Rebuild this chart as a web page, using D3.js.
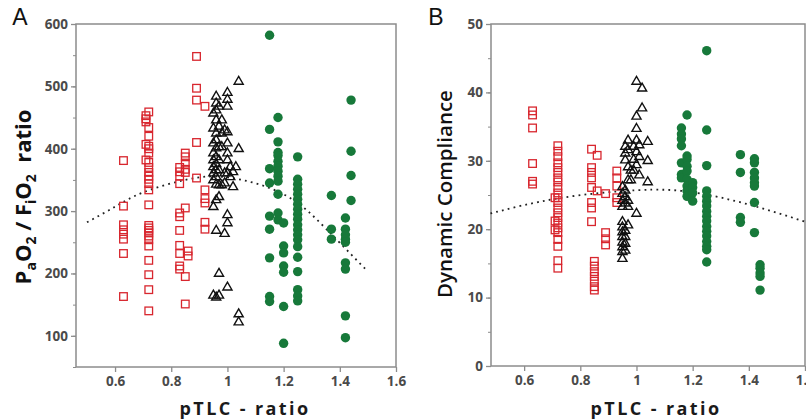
<!DOCTYPE html>
<html>
<head>
<meta charset="utf-8">
<script src="https://cdn.jsdelivr.net/npm/d3@7"></script>
<style>
  body { margin: 0; background: #fff; }
  svg { font-family: "Open Sans", "DejaVu Sans", sans-serif; }
</style>
</head>
<body>
<svg id="chart" width="806" height="419"></svg>
<script>
// Panel A: PaO2/FiO2 ratio vs pTLC ratio, [x, y]
var aSquares = [
  [0.63,381],[0.63,308],[0.63,278],[0.63,270],[0.63,263],[0.63,255],[0.63,232],[0.63,163],
  [0.72,459],[0.71,453],[0.71,448],[0.71,443],[0.72,434],[0.72,420],[0.71,407],[0.72,404],
  [0.72,400],[0.72,393],[0.71,382],[0.72,378],[0.72,370],[0.72,362],[0.72,356],[0.72,351],
  [0.72,344],[0.72,334],[0.72,310],[0.72,277],[0.72,273],[0.72,269],[0.72,265],[0.72,260],
  [0.72,254],[0.72,244],[0.72,221],[0.72,198],[0.72,174],[0.72,140],
  [0.83,370],[0.83,363],[0.83,356],[0.83,344],[0.83,297],[0.83,291],[0.83,269],[0.83,245],
  [0.83,232],[0.83,212],[0.83,207],
  [0.85,393],[0.85,387],[0.85,377],[0.85,367],[0.85,362],[0.85,305],[0.85,195],[0.85,151],
  [0.86,236],[0.86,228],
  [0.89,548],[0.89,497],[0.89,478],[0.89,410],[0.89,353],
  [0.92,468],[0.92,334],[0.92,320],[0.92,313],[0.92,282],[0.92,271]
];
var aTriangles = [
  [0.95,458],[0.95,434],[0.95,410],[0.95,394],[0.95,383],[0.95,372],[0.95,362],[0.95,351],
  [0.95,308],[0.95,166],
  [0.96,485],[0.96,474],[0.96,463],[0.96,447],[0.96,426],[0.96,415],[0.96,402],[0.96,388],
  [0.96,377],[0.96,367],[0.96,356],[0.96,344],[0.96,319],[0.96,270],[0.96,163],
  [0.97,469],[0.97,437],[0.97,404],[0.97,383],[0.97,367],[0.97,343],[0.97,324],[0.97,201],
  [0.97,166],
  [0.98,447],[0.98,426],[0.98,404],[0.98,343],
  [0.99,431],[0.99,362],[0.99,346],[0.99,265],
  [1.00,491],[1.00,480],[1.00,469],[1.00,428],[1.00,410],[1.00,394],[1.00,383],[1.00,362],
  [1.00,295],[1.00,282],[1.00,179],
  [1.01,372],[1.01,356],[1.02,364],[1.02,340],[1.03,372],
  [1.04,509],[1.04,401],[1.04,136],[1.04,123]
];
var aCircles = [
  [1.15,582],[1.15,431],[1.15,368],[1.15,345],[1.15,292],[1.15,271],[1.15,225],[1.15,163],[1.15,155],
  [1.18,450],[1.18,411],[1.18,394],[1.18,389],[1.18,380],[1.18,372],[1.18,364],[1.18,356],
  [1.18,348],[1.18,327],[1.18,297],[1.18,286],
  [1.20,281],[1.20,244],[1.20,233],[1.20,212],[1.20,202],[1.20,147],[1.20,88],
  [1.25,387],[1.25,351],[1.25,343],[1.25,335],[1.25,327],[1.25,319],[1.25,311],[1.25,303],
  [1.25,295],[1.25,287],[1.25,278],[1.25,270],[1.25,262],[1.25,254],[1.25,243],[1.25,226],
  [1.25,203],[1.25,174],[1.25,164],[1.25,156],
  [1.37,325],[1.37,271],[1.37,255],
  [1.42,289],[1.42,271],[1.42,262],[1.42,255],[1.42,250],[1.42,217],[1.42,207],[1.42,132],[1.42,97],
  [1.44,478],[1.44,396],[1.44,357],[1.44,317]
];
var aTrend = [[0.5,282],[0.6,307],[0.7,330],[0.85,350],[1.0,354],[1.2,327],[1.35,272],[1.5,203]];
var aYTicks = [100, 200, 300, 400, 500, 600];

// Panel B: dynamic compliance vs pTLC ratio, [x, y]
var bSquares = [
  [0.63,37.3],[0.63,36.7],[0.63,34.8],[0.63,29.6],[0.63,27.0],[0.63,26.6],
  [0.72,32.2],[0.72,31.4],[0.72,30.6],[0.72,29.7],[0.72,29.0],[0.72,28.3],[0.72,27.5],[0.72,26.9],
  [0.72,26.1],[0.72,25.3],[0.72,24.6],[0.72,23.9],[0.72,23.1],[0.72,22.4],[0.72,21.7],[0.72,20.9],
  [0.72,20.2],[0.72,19.5],[0.72,18.5],[0.72,17.5],[0.72,15.4],[0.72,14.3],
  [0.71,24.6],[0.71,21.2],[0.71,19.9],
  [0.84,31.7],[0.84,29.0],[0.84,28.3],[0.84,27.5],[0.84,26.1],[0.84,23.9],[0.84,23.1],[0.84,21.1],
  [0.85,15.3],[0.85,14.6],[0.85,13.8],[0.85,13.1],[0.85,12.4],[0.85,11.6],[0.85,11.1],
  [0.86,30.8],[0.86,25.6],
  [0.89,25.2],[0.89,19.5],[0.89,18.6],[0.89,17.7],
  [0.93,28.5],[0.93,27.5],[0.93,26.3],[0.93,24.6],[0.93,23.9]
];
var bTriangles = [
  [0.95,15.8],[0.95,16.8],[0.95,17.5],[0.95,18.2],[0.95,19.0],[0.95,19.7],[0.95,20.4],[0.95,21.2],
  [0.95,23.4],[0.95,24.3],[0.95,25.3],[0.95,26.3],
  [0.96,32.2],[0.96,31.2],[0.96,30.2],[0.96,25.8],[0.96,24.8],[0.96,23.9],[0.96,19.9],[0.96,19.0],
  [0.96,18.0],[0.96,17.0],
  [0.97,33.1],[0.97,31.7],[0.97,29.2],[0.97,27.3],[0.97,24.3],[0.97,23.4],[0.97,20.7],
  [0.98,28.7],[0.98,27.3],
  [0.99,30.3],[0.99,32.2],[0.99,28.7],
  [1.00,41.7],[1.00,36.6],[1.00,34.8],[1.00,33.1],[1.00,31.4],[1.00,29.5],[1.00,22.4],
  [1.01,28.0],[1.01,32.4],[1.01,30.7],
  [1.02,40.7],[1.02,37.8],
  [1.04,32.9],[1.04,30.1],[1.04,27.0]
];
var bCircles = [
  [1.16,34.8],[1.16,33.9],[1.16,33.2],[1.16,32.2],[1.16,29.7],[1.16,28.0],[1.16,27.5],
  [1.18,36.7],[1.18,30.7],[1.18,30.2],[1.18,29.2],[1.18,28.5],[1.18,27.3],[1.18,26.3],[1.18,25.6],[1.18,24.8],
  [1.20,26.8],[1.20,26.1],[1.20,25.3],[1.20,24.1],
  [1.25,46.1],[1.25,34.5],[1.25,29.3],[1.25,25.6],[1.25,24.8],[1.25,24.1],[1.25,23.4],[1.25,22.6],
  [1.25,21.9],[1.25,21.2],[1.25,20.4],[1.25,19.7],[1.25,19.0],[1.25,18.2],[1.25,17.5],[1.25,17.0],[1.25,15.2],
  [1.37,30.9],[1.37,28.3],[1.37,21.7],[1.37,21.0],
  [1.42,30.3],[1.42,29.7],[1.42,28.3],[1.42,27.5],[1.42,26.8],[1.42,26.3],[1.42,23.9],[1.42,19.5],
  [1.44,14.8],[1.44,14.3],[1.44,13.6],[1.44,13.1],[1.44,11.1]
];
var bTrend = [[0.48,22.3],[0.72,24.5],[1.0,25.7],[1.2,25.4],[1.4,23.6],[1.6,21.1]];
var bYTicks = [0, 10, 20, 30, 40, 50];

var xTicks = [0.6, 0.8, 1, 1.2, 1.4, 1.6];

var svg = d3.select('#chart');

drawPanel({
  letter: 'A', letterX: 20,
  left: 76, right: 396, top: 24, bottom: 367,
  xDomain: [0.461, 1.6], yDomain: [50, 600], yTicks: aYTicks, yMinor: d3.range(50, 601, 50),
  squares: aSquares, triangles: aTriangles, circles: aCircles, trend: aTrend,
  xTitleX: 245
});
drawPanel({
  letter: 'B', letterX: 436,
  left: 491, right: 805, top: 24, bottom: 366,
  xDomain: [0.482, 1.6], yDomain: [0, 50], yTicks: bYTicks, yMinor: d3.range(0, 51, 5),
  squares: bSquares, triangles: bTriangles, circles: bCircles, trend: bTrend,
  xTitleX: 656
});

function drawPanel(p) {
  var x = d3.scaleLinear().domain(p.xDomain).range([p.left, p.right]);
  var y = d3.scaleLinear().domain(p.yDomain).range([p.bottom, p.top]);
  var g = svg.append('g');

  // frame
  g.append('rect')
    .attr('x', p.left).attr('y', p.top)
    .attr('width', p.right - p.left).attr('height', p.bottom - p.top)
    .attr('fill', '#fff').attr('stroke', '#8c8c8c').attr('stroke-width', 1.5);

  // y axis with minor ticks
  var yMin = g.append('g')
    .attr('transform', 'translate(' + p.left + ',0)')
    .call(d3.axisLeft(y).tickValues(p.yMinor).tickSize(3).tickFormat(''));
  yMin.select('.domain').remove();
  yMin.selectAll('line').attr('stroke', '#8c8c8c');

  var yAx = g.append('g')
    .attr('transform', 'translate(' + p.left + ',0)')
    .call(d3.axisLeft(y).tickValues(p.yTicks).tickSize(5).tickPadding(3));
  yAx.select('.domain').remove();
  yAx.selectAll('line').attr('stroke', '#8c8c8c').attr('stroke-width', 1.3);
  yAx.selectAll('text')
    .attr('fill', '#4a4a4a').style('font-size', '13.5px').style('font-weight', 'bold')
    .style('font-family', '"Open Sans", sans-serif');

  var xAx = g.append('g')
    .attr('transform', 'translate(0,' + p.bottom + ')')
    .call(d3.axisBottom(x).tickValues(xTicks).tickSize(5).tickPadding(4).tickFormat(d3.format('')));
  xAx.select('.domain').remove();
  xAx.selectAll('line').attr('stroke', '#8c8c8c').attr('stroke-width', 1.3);
  xAx.selectAll('text')
    .attr('fill', '#4a4a4a').style('font-size', '13.5px').style('font-weight', 'bold')
    .style('font-family', '"Open Sans", sans-serif');

  // trend line (dotted)
  var line = d3.line().x(d => x(d[0])).y(d => y(d[1])).curve(d3.curveNatural);
  g.append('path')
    .datum(p.trend)
    .attr('fill', 'none')
    .attr('stroke', '#222')
    .attr('stroke-width', 1.8)
    .attr('stroke-dasharray', '1.8,4.2')
    .attr('d', line);

  // squares
  g.selectAll('.sq')
    .data(p.squares)
    .enter().append('rect')
    .attr('x', d => x(d[0]) - 3.8)
    .attr('y', d => y(d[1]) - 3.8)
    .attr('width', 7.6).attr('height', 7.6)
    .attr('fill', 'none')
    .attr('stroke', '#d8262e')
    .attr('stroke-width', 1.3);

  // triangles
  var tri = d3.symbol().type(d3.symbolTriangle).size(36);
  g.selectAll('.tri')
    .data(p.triangles)
    .enter().append('path')
    .attr('transform', d => 'translate(' + x(d[0]) + ',' + (y(d[1]) + 0.8) + ')')
    .attr('d', tri)
    .attr('fill', 'none')
    .attr('stroke', '#111')
    .attr('stroke-width', 1.4);

  // circles
  g.selectAll('.dot')
    .data(p.circles)
    .enter().append('circle')
    .attr('cx', d => x(d[0]))
    .attr('cy', d => y(d[1]))
    .attr('r', 4.7)
    .attr('fill', '#17793a');

  // panel letter
  svg.append('text')
    .attr('x', p.letterX).attr('y', 25)
    .attr('text-anchor', 'middle')
    .style('font-family', '"Liberation Sans", Arial, sans-serif')
    .style('font-size', '23px')
    .attr('fill', '#111')
    .text(p.letter);

  // x title
  svg.append('text')
    .attr('x', p.xTitleX).attr('y', 415)
    .attr('text-anchor', 'middle')
    .style('font-size', '18px').style('font-weight', 'bold')
    .style('letter-spacing', '2.4px')
    .attr('fill', '#1a1a1a')
    .text('pTLC - ratio');
}

// y titles
var ta = svg.append('text')
  .attr('transform', 'translate(31,197) rotate(-90)')
  .attr('text-anchor', 'middle')
  .style('font-size', '22px').style('font-weight', 'bold')
  .attr('fill', '#111');
ta.append('tspan').text('P');
ta.append('tspan').attr('dy', 5).style('font-size', '14px').text('a');
ta.append('tspan').attr('dy', -5).text('O');
ta.append('tspan').attr('dy', 5).style('font-size', '14px').text('2');
ta.append('tspan').attr('dy', -5).text(' / F');
ta.append('tspan').attr('dy', 5).style('font-size', '14px').text('i');
ta.append('tspan').attr('dy', -5).text('O');
ta.append('tspan').attr('dy', 5).style('font-size', '14px').text('2');
ta.append('tspan').attr('dy', -5).text('\u00a0 ratio');

svg.append('text')
  .attr('transform', 'translate(452,194) rotate(-90)')
  .attr('text-anchor', 'middle')
  .style('font-size', '20.5px').style('font-weight', '600')
  .attr('fill', '#111')
  .text('Dynamic Compliance');
</script>
</body>
</html>
